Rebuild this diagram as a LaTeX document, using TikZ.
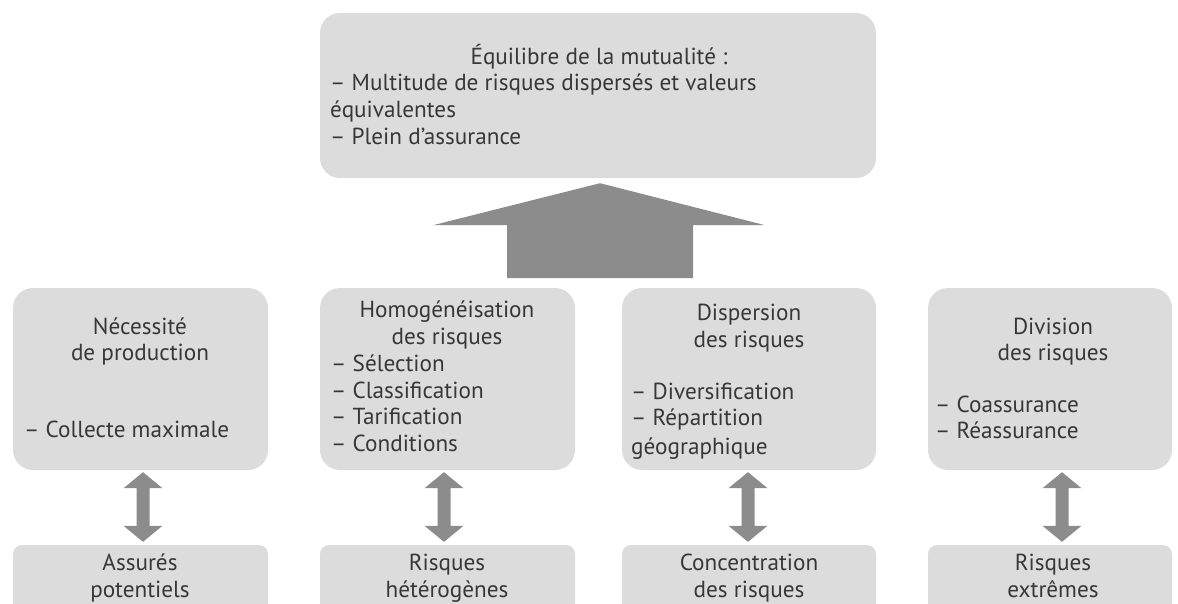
\documentclass[tikz,border=0pt]{standalone}
\usepackage{fontspec}
\setmainfont{PT Sans}
\usetikzlibrary{calc}
\definecolor{boxgray}{RGB}{220,220,220}
\definecolor{arrowgray}{RGB}{140,140,140}
\definecolor{ink}{RGB}{55,55,55}
\newcommand{\labelfont}{\fontsize{23.2}{27}\selectfont}
% two-headed vertical arrow between a top point and a bottom point
\newcommand{\twoway}[2]{%
  \fill[arrowgray] let \p1=#1, \p2=#2 in
    (\x1,\y1) -- (\x1+19.5pt,\y1-16pt) -- (\x1+6.5pt,\y1-16pt)
    -- (\x1+6.5pt,\y2+16pt) -- (\x1+19.5pt,\y2+16pt) -- (\x1,\y2)
    -- (\x1-19.5pt,\y2+16pt) -- (\x1-6.5pt,\y2+16pt)
    -- (\x1-6.5pt,\y1-16pt) -- (\x1-19.5pt,\y1-16pt) -- cycle;}
\tikzset{
  panel/.style={fill=boxgray, draw=none, rounded corners=20pt, inner sep=0pt},
  foot/.style={fill=boxgray, draw=none, rounded corners=9pt, inner sep=0pt},
  txt/.style={inner sep=0pt, text=ink, font=\labelfont},
}
\begin{document}
\begin{tikzpicture}[x=1pt,y=-1pt]
\useasboundingbox (0,0) rectangle (1178,603);
\clip (0,0) rectangle (1178,603);

% top panel
\node[panel, minimum width=556pt, minimum height=165pt] (top) at (598,95.5) {};
\node[txt, anchor=base] (t1) at (599,64) {Équilibre de la mutualité :};
\node[txt, anchor=base west] (t2) at (330,90) {– Multitude de risques dispersés et valeurs};
\node[txt, anchor=base west] (t3) at (330,117) {équivalentes};
\node[txt, anchor=base west] (t4) at (330,144) {– Plein d’assurance};

% big upward arrow
\coordinate (uptip) at ([xshift=2pt,yshift=-5pt]top.south);
\coordinate (upbase) at (600,278);
\fill[arrowgray] let \p1=(uptip), \p2=(upbase) in
  (\p1) -- (\x1+165pt,\y1-42pt) -- (\x1+93pt,\y1-42pt) -- (\x1+93pt,\y2)
  -- (\x1-93pt,\y2) -- (\x1-93pt,\y1-42pt) -- (\x1-167pt,\y1-42pt) -- cycle;

% middle panels
\node[panel, minimum width=255pt, minimum height=182pt] (m1) at (140.5,379) {};
\node[panel, minimum width=255pt, minimum height=182pt] (m2) at (447.5,379) {};
\node[panel, minimum width=254pt, minimum height=182pt] (m3) at (749,379) {};
\node[panel, minimum width=244pt, minimum height=182pt] (m4) at (1050,379) {};

% bottom panels
\node[foot, minimum width=255pt, minimum height=75pt] (b1) at (140.5,582.5) {};
\node[foot, minimum width=255pt, minimum height=75pt] (b2) at (447.5,582.5) {};
\node[foot, minimum width=254pt, minimum height=75pt] (b3) at (749,582.5) {};
\node[foot, minimum width=244pt, minimum height=75pt] (b4) at (1050,582.5) {};

% texts of the middle panels
\node[txt, anchor=base] (m1a) at (140,334) {Nécessité};
\node[txt, anchor=base] (m1b) at (140,360) {de production};
\node[txt, anchor=base west] (m1c) at (24,437) {– Collecte maximale};

\node[txt, anchor=base] (m2a) at (447,317) {Homogénéisation};
\node[txt, anchor=base] (m2b) at (447,344) {des risques};
\node[txt, anchor=base west] (m2c) at (331,371) {– Sélection};
\node[txt, anchor=base west] (m2d) at (331,398) {– Classification};
\node[txt, anchor=base west] (m2e) at (331,424) {– Tarification};
\node[txt, anchor=base west] (m2f) at (331,451) {– Conditions};

\node[txt, anchor=base] (m3a) at (749,320) {Dispersion};
\node[txt, anchor=base] (m3b) at (749,347) {des risques};
\node[txt, anchor=base west] (m3c) at (631,399) {– Diversification};
\node[txt, anchor=base west] (m3d) at (631,425) {– Répartition};
\node[txt, anchor=base west] (m3e) at (631,454) {géographique};

\node[txt, anchor=base] (m4a) at (1053,334) {Division};
\node[txt, anchor=base] (m4b) at (1053,360) {des risques};
\node[txt, anchor=base west] (m4c) at (935,412) {– Coassurance};
\node[txt, anchor=base west] (m4d) at (935,438) {– Réassurance};

% texts of the bottom panels
\node[txt, anchor=base] (b1a) at (140,570) {Assurés};
\node[txt, anchor=base] (b1b) at (140,597) {potentiels};
\node[txt, anchor=base] (b2a) at (447,570) {Risques};
\node[txt, anchor=base] (b2b) at (447,597) {hétérogènes};
\node[txt, anchor=base] (b3a) at (749,570) {Concentration};
\node[txt, anchor=base] (b3b) at (749,597) {des risques};
\node[txt, anchor=base] (b4a) at (1053,570) {Risques};
\node[txt, anchor=base] (b4b) at (1053,597) {extrêmes};

% two-way arrows between middle and bottom panels
\coordinate (a1t) at ([xshift=2.5pt,yshift=-2pt]m1.south);
\coordinate (a1b) at ([xshift=2.5pt,yshift=3pt]b1.north);
\coordinate (a2t) at ([xshift=-3.5pt,yshift=-2pt]m2.south);
\coordinate (a2b) at ([xshift=-3.5pt,yshift=3pt]b2.north);
\coordinate (a3t) at ([xshift=-1pt,yshift=-2pt]m3.south);
\coordinate (a3b) at ([xshift=-1pt,yshift=3pt]b3.north);
\coordinate (a4t) at ([xshift=12pt,yshift=-2pt]m4.south);
\coordinate (a4b) at ([xshift=12pt,yshift=3pt]b4.north);
\twoway{(a1t)}{(a1b)}
\twoway{(a2t)}{(a2b)}
\twoway{(a3t)}{(a3b)}
\twoway{(a4t)}{(a4b)}
\end{tikzpicture}
\end{document}
